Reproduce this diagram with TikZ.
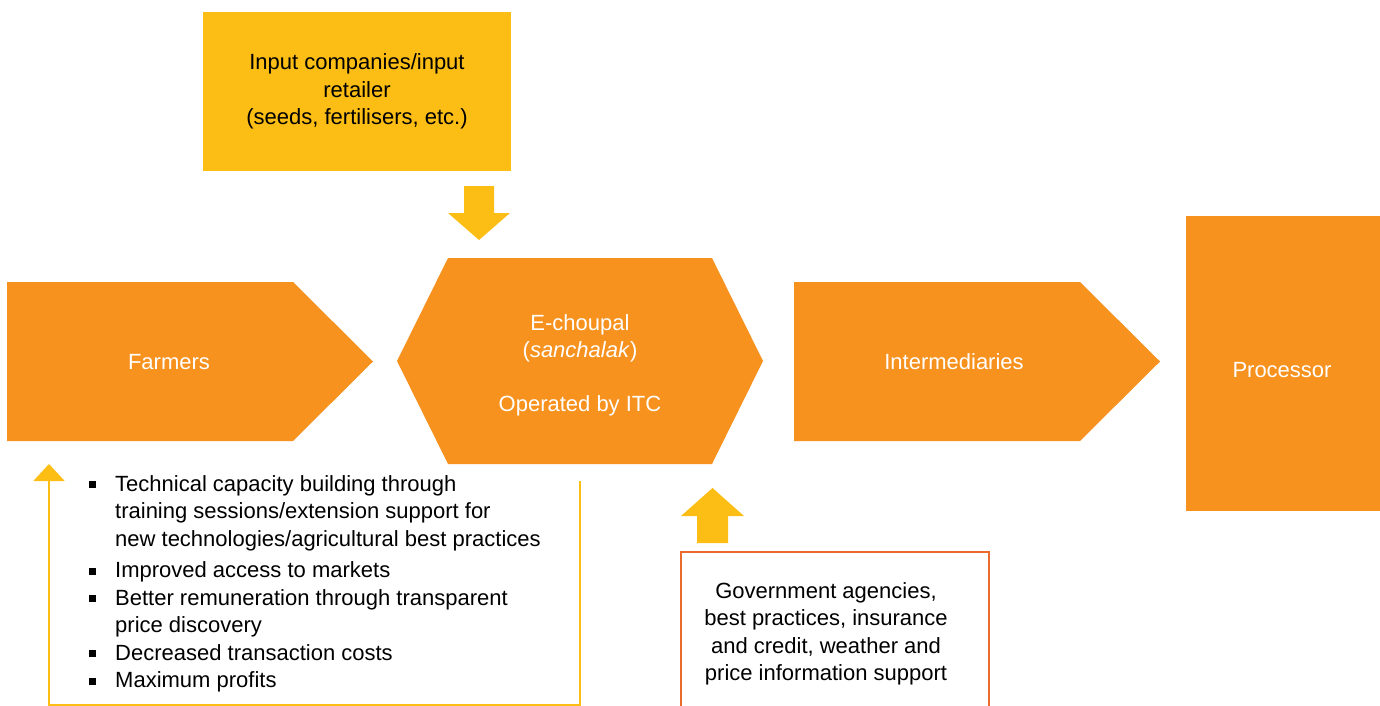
\documentclass[tikz,border=0pt]{standalone}
\usepackage{fontspec}
\setmainfont{Liberation Sans}
\usetikzlibrary{arrows.meta}
\definecolor{chorange}{HTML}{F7921E}
\definecolor{chyellow}{HTML}{FCBD15}
\definecolor{chred}{HTML}{EA6B2C}
\newcommand{\sqbullet}{\rule[3pt]{7pt}{7pt}}

\begin{document}
\begin{tikzpicture}[x=1pt, y=-1pt, every node/.style={font=\fontsize{22}{27.5}\selectfont, align=center, inner sep=0pt}, whitetext/.style={text=white}, link/.style={draw=chyellow, line width=2pt}]
\useasboundingbox (0,0) rectangle (1380,706);

% input side
\node[fill=chyellow, minimum width=308pt, minimum height=159pt] (input) at (357,91.5) {Input companies/input\\retailer\\(seeds, fertilisers, etc.)};
\fill[chyellow] (464,186) -- (494,186) -- (494,213) -- (510,213) -- (479,240) -- (448,213) -- (464,213) -- cycle;

% chain
\fill[chorange] (7,282) -- (293,282) -- (373,361.5) -- (293,441) -- (7,441) -- cycle;
\node[whitetext] (farmers) at (169,362) {Farmers};

\fill[chorange] (448,258) -- (712,258) -- (763,361) -- (712,464) -- (448,464) -- (397,361) -- cycle;
\node[whitetext] (choupal) at (580,365) {E-choupal\\(\textit{sanchalak})\\[26pt]Operated by ITC};

\fill[chorange] (794,282) -- (1080,282) -- (1160,361.5) -- (1080,441) -- (794,441) -- cycle;
\node[whitetext] (inter) at (954,362) {Intermediaries};

\node[fill=chorange, whitetext, minimum width=194pt, minimum height=295pt] (proc) at (1283,363.5) {};
\node[whitetext] (proctext) at (1282,370) {Processor};

% support
\fill[chyellow] (712.5,488) -- (744,516) -- (728,516) -- (728,543) -- (697,543) -- (697,516) -- (681,516) -- cycle;
\draw[chred, line width=1.5pt] (681,710) -- (681,552) -- (989,552) -- (989,710);
\node (gov) at (826,634) {Government agencies,\\best practices, insurance\\and credit, weather and\\price information support};

% benefits back to farmers
\coordinate (from) at (580,481);
\coordinate (corner) at (49,705);
\coordinate (to) at (49,464);
\draw[link, -{Triangle[width=31pt, length=17pt]}] (from) |- (corner) -- (to);
\node[anchor=north west] (benefits) at (89,472) {\begin{tabular}{@{}l@{\hspace{19pt}}l@{}}
\sqbullet & Technical capacity building through\\
 & training sessions/extension support for\\
 & new technologies/agricultural best practices\\[4pt]
\sqbullet & Improved access to markets\\
\sqbullet & Better remuneration through transparent\\
 & price discovery\\
\sqbullet & Decreased transaction costs\\
\sqbullet & Maximum profits
\end{tabular}};
\end{tikzpicture}
\end{document}
